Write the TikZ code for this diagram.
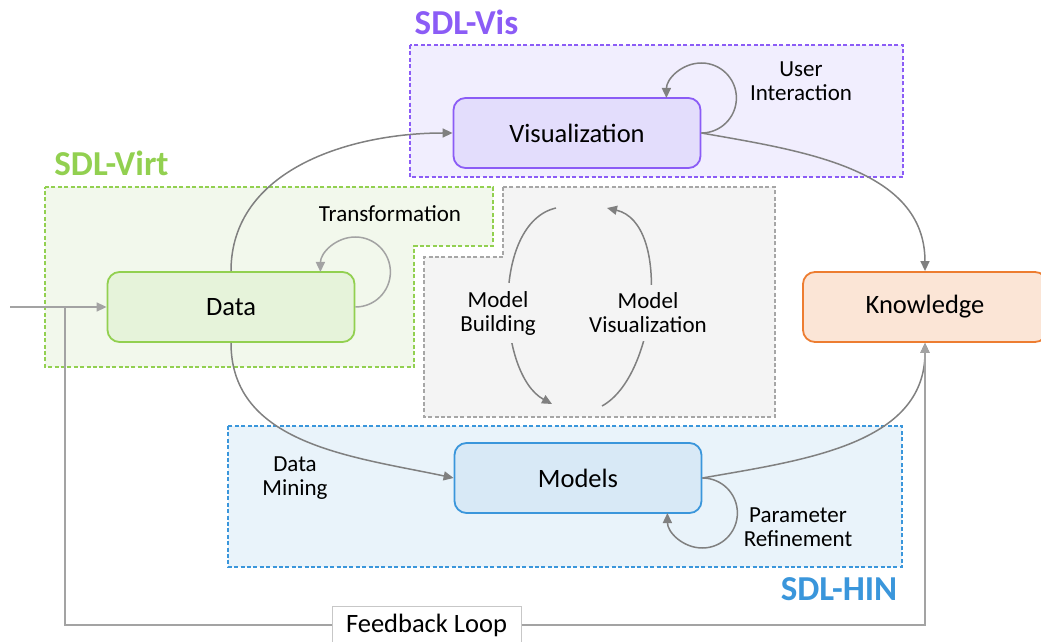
\documentclass[tikz,border=0pt]{standalone}
\usepackage{fontspec}
\setmainfont{Carlito}
\usepackage{tikz}
\usetikzlibrary{arrows.meta,positioning}
\definecolor{VisLine}{HTML}{8B5CF6}
\definecolor{VisPanel}{HTML}{F1EEFE}
\definecolor{VisFill}{HTML}{E3DDFC}
\definecolor{VirtLine}{HTML}{92D050}
\definecolor{VirtPanel}{HTML}{F2F8EC}
\definecolor{VirtFill}{HTML}{E6F3DA}
\definecolor{HinLine}{HTML}{3A96DB}
\definecolor{HinPanel}{HTML}{E9F3FA}
\definecolor{HinFill}{HTML}{D8E9F6}
\definecolor{KnowLine}{HTML}{ED7D31}
\definecolor{KnowFill}{HTML}{FBE5D6}
\definecolor{GreyLine}{HTML}{A6A6A6}
\definecolor{GreyPanel}{HTML}{F4F4F4}
\definecolor{ArrowInk}{HTML}{808080}
\definecolor{ArrowLight}{HTML}{A3A3A3}

\begin{document}
\begin{tikzpicture}[x=0.5pt,y=-0.5pt,
  box/.style={draw,line width=0.9pt,rounded corners=6pt,minimum width=123.5pt,minimum height=35pt,font=\fontsize{13.25}{15}\selectfont},
  panel/.style={line width=0.75pt,dash pattern=on 2pt off 1.2pt},
  areatitle/.style={anchor=base,font=\fontsize{17.5}{20}\selectfont\bfseries},
  lbl/.style={align=center,font=\fontsize{11.5}{12}\selectfont},
  arr/.style={-{Triangle[length=5pt,width=4.5pt]},line width=0.75pt,color=ArrowInk}]
\useasboundingbox (0,0) rectangle (1041,642);
% shaded areas
\draw[panel,VirtLine,fill=VirtPanel] (45,187) -- (493,187) -- (493,246) -- (414,246) -- (414,367) -- (45,367) -- cycle;
\draw[panel,GreyLine,fill=GreyPanel] (503,187) -- (775,187) -- (775,417) -- (424,417) -- (424,257) -- (503,257) -- cycle;
\draw[panel,VisLine,fill=VisPanel] (410,45) rectangle (903,177);
\draw[panel,HinLine,fill=HinPanel] (228,426) rectangle (902,567);
\node[areatitle,text=VisLine] (vistitle) at (466.5,35) {SDL-Vis};
\node[areatitle,text=VirtLine] (virttitle) at (111.5,176) {SDL-Virt};
\node[areatitle,text=HinLine] (hintitle) at (839,600) {SDL-HIN};
% stages
\node[box,draw=VirtLine,fill=VirtFill] (data) at (231,307) {Data};
\node[box,draw=VisLine,fill=VisFill] (vis) at (577,133) {Visualization};
\node[box,draw=HinLine,fill=HinFill] (models) at (578,478) {Models};
\node[box,draw=KnowLine,fill=KnowFill,minimum width=122pt] (know) at (925,307) {Knowledge};
\node[lbl] (transf) at (390,214) {Transformation};
\node[lbl] (userint) at (801,81) {User\\Interaction};
\node[lbl] (mining) at (295,478) {Data\\Mining};
\node[lbl] (paramref) at (798,527) {Parameter\\Refinement};
% model cycle
\coordinate (bstart) at (556,208);
\coordinate (bend) at (552,404);
\coordinate (vstart) at (602,406);
\coordinate (vend) at (607,208);
\draw[arr] (bstart) .. controls +(-65,15) and +(-55,-30) .. (bend);
\draw[arr] (vstart) .. controls +(55,-30) and +(65,15) .. (vend);
\node[lbl,fill=GreyPanel,inner ysep=4pt] (mbuild) at (498,313) {Model\\Building};
\node[lbl,fill=GreyPanel,inner ysep=4pt] (mvis) at (648,313) {Model\\Visualization};
% flow
\draw[arr] (data.north) to[out=90,in=180] (vis.west);
\draw[arr] (vis.east) to[out=-10,in=90] (know.north);
\draw[arr] (data.south) to[out=-90,in=168] (models.west);
\draw[arr] (models.east) to[out=10,in=-90] (know.south);
\draw[arr,ArrowLight] (data.east) arc[start angle=-90,end angle=180,radius=17.5pt];
\draw[arr] (vis.east) arc[start angle=-90,end angle=180,radius=17.5pt];
\draw[arr] (models.east) arc[start angle=90,end angle=-180,radius=17.5pt];
% input and feedback
\coordinate (src) at (10,307);
\coordinate (fbjoin) at (65,307);
\draw[arr,ArrowLight] (src) -- (data.west);
\node[draw=black!22,fill=white,line width=0.5pt,minimum width=94.5pt,minimum height=18pt,font=\fontsize{13.25}{15}\selectfont] (fb) at (426.5,625) {Feedback Loop};
\draw[ArrowLight,line width=0.75pt] (fbjoin) |- (fb.west);
\draw[arr,ArrowLight] (fb.east) -| (know.south);
\end{tikzpicture}
\end{document}
